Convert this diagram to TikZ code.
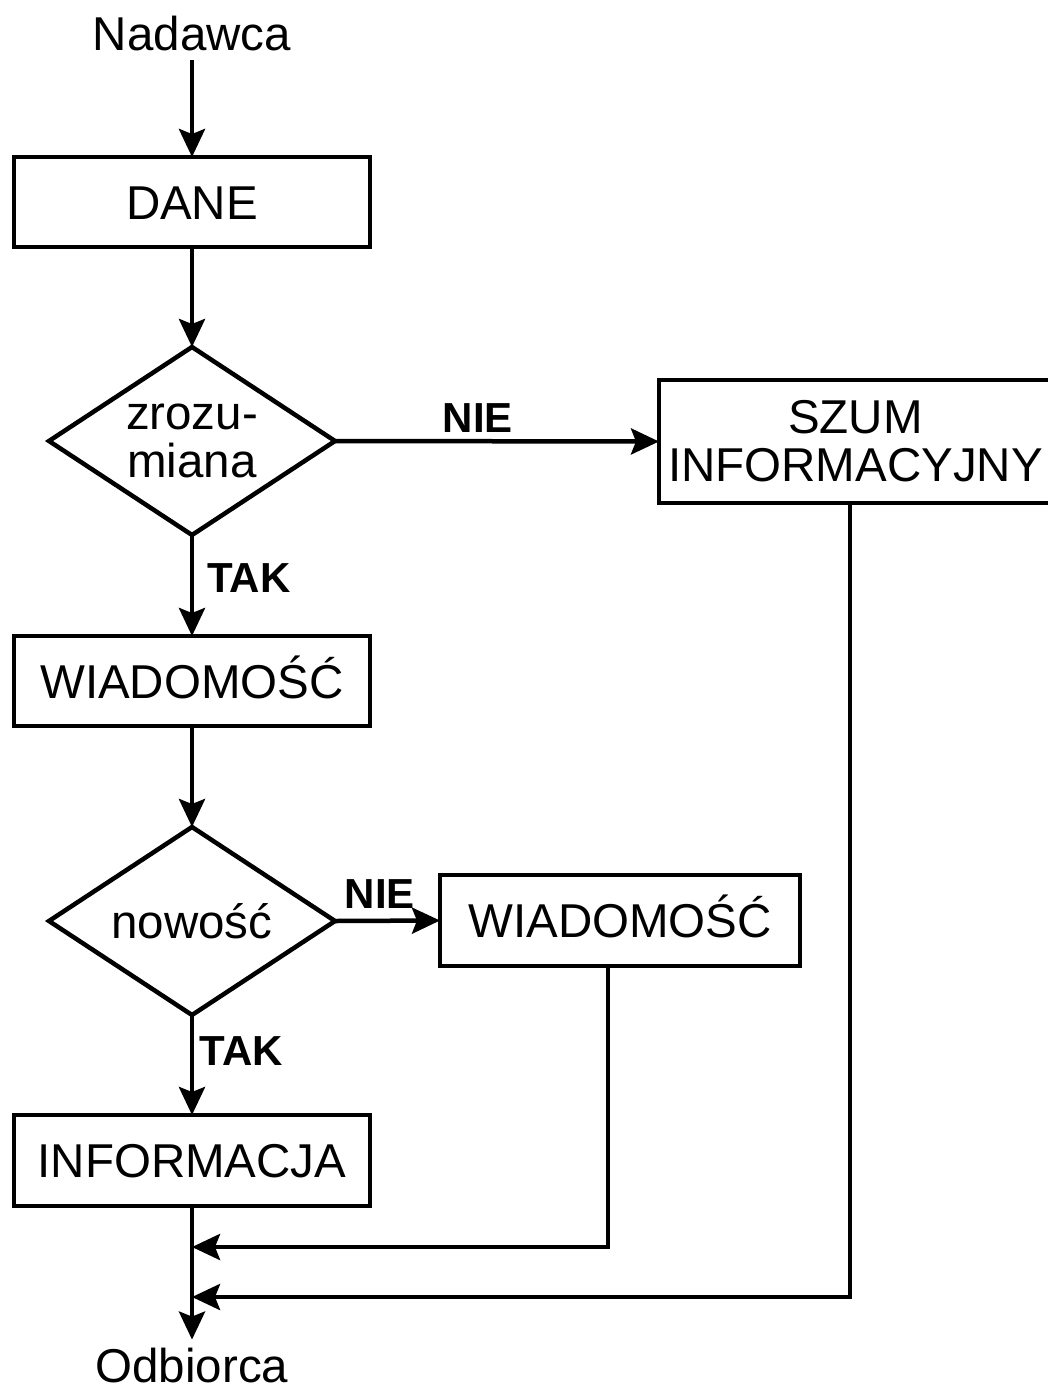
\documentclass[tikz,border=0pt]{standalone}
\usepackage{fontspec}
\setmainfont{Liberation Sans}
\usetikzlibrary{arrows.meta,shapes.geometric}
\begin{document}
\begin{tikzpicture}[x=1pt,y=-1pt,
  every node/.style={inner sep=0pt, outer sep=0pt},
  box/.style={draw, line width=4.5pt, minimum width=356pt, minimum height=90pt,
    font=\fontsize{47.5}{48}\selectfont, text height=34pt, text depth=0pt},
  dec/.style={draw, diamond, line width=4.5pt, minimum width=286pt, minimum height=188pt,
    aspect=1.52, font=\fontsize{47.5}{48}\selectfont, align=center},
  txt/.style={font=\fontsize{47.5}{48}\selectfont},
  lbl/.style={font=\fontsize{42}{42}\selectfont\bfseries},
  arr/.style={line width=4.5pt, -{Stealth[length=28pt,width=26pt,inset=5pt]}},
  ln/.style={line width=4.5pt}
]
\fill[white] (0,0) rectangle (1048,1387);
\useasboundingbox (0,0) rectangle (1048,1387);

\node[txt, anchor=base] (nad) at (192,50) {Nadawca};
\node[box] (dane) at (192,202) {DANE};
\node[dec] (d1) at (192,441) {zrozu-\\miana};
\node[box, minimum width=393pt, minimum height=123pt, align=center, text height=, text depth=] (szum) at (855.5,441.5) {SZUM\\INFORMACYJNY};
\node[box] (w1) at (192,681) {WIADOMOŚĆ};
\node[dec, text height=34pt, text depth=0pt] (d2) at (192,921) {nowość};
\node[box, minimum width=360pt, minimum height=91pt] (w2) at (620,920.5) {WIADOMOŚĆ};
\node[box, minimum height=91pt] (inf) at (192,1160.5) {INFORMACJA};
\node[txt, anchor=base] (odb) at (192,1382) {Odbiorca};

\node[lbl, anchor=base] (nie1) at (478,432) {NIE};
\node[lbl, anchor=base] (tak1) at (249,592) {TAK};
\node[lbl, anchor=base] (nie2) at (380,908) {NIE};
\node[lbl, anchor=base] (tak2) at (241.5,1065) {TAK};

\coordinate (m1) at (192,1247);
\coordinate (m2) at (192,1297);
\coordinate (s1) at (850,1297);
\coordinate (w2x) at (608,1247);

\draw[arr] ([yshift=-10pt]nad.south) -- (dane.north);
\draw[arr] (dane.south) -- (d1.north);
\draw[arr] (d1.east) -- (szum.west);
\draw[arr] (d1.south) -- (w1.north);
\draw[arr] (w1.south) -- (d2.north);
\draw[arr] (d2.east) -- (w2.west);
\draw[arr] (d2.south) -- (inf.north);
\draw[arr] (inf.south) -- ([yshift=8pt]odb.north);
\draw[arr] (w2.south -| w2x) -- (w2x) -- (m1);
\draw[arr] (szum.south -| s1) -- (s1) -- (m2);
\end{tikzpicture}
\end{document}
